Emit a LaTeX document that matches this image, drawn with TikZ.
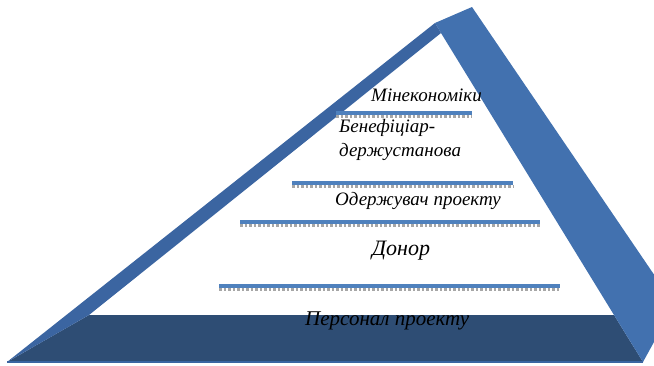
\documentclass[tikz,border=0pt]{standalone}
\usepackage{fontspec}
\setmainfont{Liberation Serif}
\usepackage{tikz}
\usetikzlibrary{positioning,calc}
\definecolor{bandblue}{RGB}{59,101,161}
\definecolor{sideblue}{RGB}{66,113,175}
\definecolor{baseblue}{RGB}{46,77,116}
\definecolor{rungblue}{RGB}{79,129,189}

\begin{document}
\begin{tikzpicture}[x=1pt, y=-1pt,
    lbl/.style={font=\fontsize{19}{25}\selectfont\itshape, inner sep=0pt, anchor=base west},
    rung/.style={line width=3.5pt, rungblue},
    rungshadow/.style={line width=2.5pt, gray!70, dotted}
]
    \useasboundingbox (0,0) rectangle (654,365);
    \clip (0,0) rectangle (654,365);

    % corners of the pyramid
    \coordinate (apexF) at (435,23);
    \coordinate (apexB) at (472,7);
    \coordinate (apexI) at (441,33);
    \coordinate (botL) at (7,362);
    \coordinate (botR) at (643,362);
    \coordinate (backR) at (674.5,304.7);
    \coordinate (inL) at (89,315);
    \coordinate (inR) at (614,315);

    \fill[baseblue] (inL) -- (inR) -- (botR) -- (botL) -- cycle;
    \draw[bandblue, line width=1.5pt] (botL) -- (botR);
    \fill[sideblue] (apexF) -- (apexB) -- (backR) -- (botR) -- (inR) -- (apexI) -- cycle;
    \fill[bandblue] (botL) -- (apexF) -- (apexI) -- (inL) -- cycle;

    % levels
    \foreach \yy/\xa/\xb in {113/336/472, 183/292/513, 222/240/540, 286/219/560} {
        \draw[rungshadow] (\xa,\yy+3.5) -- (\xb,\yy+3.5);
        \draw[rung] (\xa,\yy) -- (\xb,\yy);
    }

    \node[lbl] (mine) at (371,101) {Мінекономіки};
    \node[lbl] (benef) at (339,132) {Бенефіціар-};
    \node[lbl] (derzh) at (339,156) {держустанова};
    \node[lbl] (odr) at (335,205) {Одержувач проекту};
    \node[lbl, font=\fontsize{22}{25}\selectfont\itshape] (donor) at (372,255) {Донор};
    \node[lbl, font=\fontsize{21}{25}\selectfont\itshape] (pers) at (305,325) {Персонал проекту};
\end{tikzpicture}
\end{document}
